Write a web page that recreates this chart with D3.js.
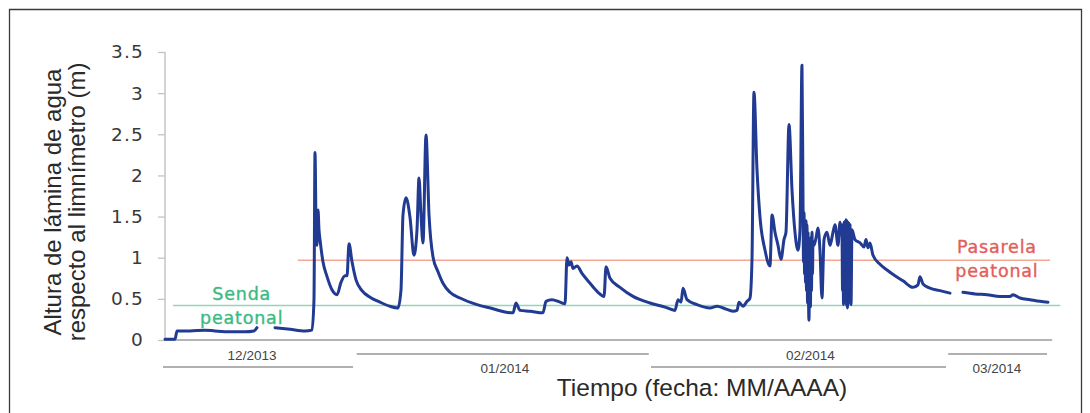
<!DOCTYPE html>
<html>
<head>
<meta charset="utf-8">
<script src="https://cdn.jsdelivr.net/npm/d3@7"></script>
<style>
  html, body { margin: 0; padding: 0; background: #fff; }
  svg { display: block; }
</style>
</head>
<body>
<svg id="chart" width="1090" height="413"></svg>
<script>
// ---------------- DATA ----------------
// time index in days (approx.), water level in metres
const nivelDias = [
  0, 1.36, 1.63, 3.39, 5.42, 6.78, 8.81, 10.85, 12.07, 12.47,
  null,
  14.92, 16.95, 18.98, 19.93, 20.2, 20.34, 20.47, 20.61, 20.75, 20.88, 21.02, 21.42, 21.97, 22.64, 23.32,
  23.86, 24.41, 24.68, 24.95, 25.36, 25.9, 26.71, 27.8, 29.15, 30.51, 31.59, 32.0, 32.27, 32.68, 33.22,
  33.76, 34.17, 34.44, 34.71, 34.98, 35.39, 35.8, 36.34, 37.02, 37.69, 38.64, 40.0, 42.31, 44.47, 46.1,
  47.19, 47.59, 48.14, 49.49, 51.25, 51.66, 52.47, 53.56, 54.24, 54.51, 54.78, 55.05, 55.32, 55.86, 56.54,
  57.63, 58.71, 59.53, 59.8, 60.34, 61.69, 63.46, 65.76, 67.8, 69.15, 69.56, 69.97, 70.24, 70.78, 72.14,
  73.9, 74.85, 75.93, 77.02, 77.56, 77.83, 78.37, 78.92, 79.32, 79.59, 79.86, 80.27, 80.68, 81.36, 82.03,
  82.31, 82.71, 83.12, 83.53, 83.93, 84.2, 84.61, 85.02, 85.42, 85.83, 86.1, 86.37, 86.51,
  86.58, 86.65, 86.72, 86.78, 86.85, 86.92, 86.98, 87.05, 87.12, 87.19, 87.25, 87.32, 87.39, 87.46,
  87.52, 87.59, 87.66, 87.73, 87.8, 87.86, 88.0, 88.27, 88.54, 88.81, 89.08, 89.36, 89.76, 90.17, 90.58,
  90.85, 91.25, 91.53, 91.8, 91.87, 91.93, 92.0, 92.07, 92.14, 92.2, 92.27, 92.34, 92.41, 92.47, 92.54,
  92.61, 92.68, 92.75, 92.81, 92.88, 92.95, 93.02, 93.15, 93.56,
  94.24, 94.78, 95.05, 95.32, 95.59, 96.0, 96.95, 97.9, 98.98, 100.07, 101.42, 102.1, 102.37, 102.78, 103.73,
  105.08, 106.44,
  null,
  108.2, 109.83, 111.46, 113.22, 114.58, 114.98, 115.93, 117.29, 118.64, 119.73
];
const nivelValores = [
  0.01, 0.01, 0.11, 0.11, 0.12, 0.11, 0.10, 0.10, 0.11, 0.15,
  null,
  0.15, 0.13, 0.11, 0.12, 0.49, 2.28, 1.46, 1.15, 1.58, 1.34, 1.22, 0.95, 0.77, 0.61, 0.55,
  0.70, 0.78, 0.78, 1.17, 0.95, 0.73, 0.60, 0.52, 0.46, 0.41, 0.39, 0.61, 1.52, 1.73, 1.49,
  1.03, 1.34, 1.97, 1.52, 1.18, 2.49, 1.52, 1.01, 0.83, 0.69, 0.58, 0.51, 0.43, 0.38, 0.34,
  0.33, 0.45, 0.36, 0.35, 0.33, 0.47, 0.49, 0.46, 0.44, 1.00, 0.91, 0.95, 0.87, 0.90, 0.81,
  0.69, 0.58, 0.53, 0.89, 0.75, 0.64, 0.53, 0.45, 0.40, 0.36, 0.49, 0.46, 0.63, 0.49, 0.43,
  0.39, 0.41, 0.38, 0.35, 0.36, 0.46, 0.41, 0.47, 0.51, 0.97, 3.01, 2.07, 1.49, 1.09, 0.90,
  1.52, 1.31, 1.15, 0.98, 1.22, 1.31, 2.62, 1.82, 1.31, 1.09, 1.34, 3.34, 1.70,
  0.95, 1.55, 0.80, 1.34, 0.70, 1.45, 0.60, 1.40, 0.45, 1.30, 0.55, 0.24, 0.90, 1.22,
  0.40, 1.25, 0.60, 1.31, 0.80, 1.20, 1.15, 1.24, 1.36, 1.09, 0.51, 1.22, 1.31, 1.15, 1.31,
  1.40, 1.15, 1.43, 1.26, 0.60, 1.40, 0.43, 1.43, 0.55, 1.44, 0.49, 1.46, 0.42, 1.45, 0.39,
  1.43, 0.48, 1.42, 0.49, 1.40, 0.45, 0.43, 1.34, 1.22,
  1.18, 1.13, 1.22, 1.12, 1.18, 1.03, 0.92, 0.85, 0.78, 0.72, 0.64, 0.67, 0.77, 0.68, 0.63,
  0.60, 0.57,
  null,
  0.58, 0.56, 0.55, 0.53, 0.53, 0.55, 0.51, 0.49, 0.47, 0.46
];

const yTicks = [0, 0.5, 1, 1.5, 2, 2.5, 3, 3.5];

const meses = ["12/2013", "01/2014", "02/2014", "03/2014"];
const mesInicio = [-0.27, 26.0, 65.9, 106.2];
const mesFin = [25.5, 65.6, 105.9, 119.6];
const mesEtiqueta = [11.8, 46.1, 87.5, 112.8];

const umbralNombres = [["Senda", "peatonal"], ["Pasarela", "peatonal"]];
const umbralValores = [0.42, 0.97];
const umbralInicio = [1.08, 18.0];
const umbralFin = [121.4, 120.0];
const umbralEtiquetaX = [10.4, 112.8];

// ---------------- CHART ----------------
const svg = d3.select("#chart");

// outer frame
svg.append("path")
  .attr("d", "M9.5,420 L9.5,9.5 L1081.5,9.5 L1081.5,420")
  .attr("fill", "none").attr("stroke", "#3a3a3a").attr("stroke-width", 1.3);

const x = d3.scaleLinear().domain([0, 120]).range([165, 1050]);
const y = d3.scaleLinear().domain([0, 3.5]).range([340, 52]);

// y axis
const yAxis = svg.append("g")
  .attr("transform", `translate(${x(0)},0)`)
  .call(d3.axisLeft(y).tickValues(yTicks).tickSize(7).tickPadding(14)
    .tickFormat(d3.format("~g")));
yAxis.select(".domain").attr("stroke", "#c4c4c4").attr("stroke-width", 1.5)
  .attr("d", `M0,${y(3.5)}V${y(0)}`);
yAxis.selectAll(".tick line").attr("stroke", "#c4c4c4").attr("stroke-width", 1.3);
yAxis.selectAll(".tick text")
  .attr("fill", "#3a3a3a")
  .style("font-family", "'DejaVu Sans', Verdana, sans-serif")
  .style("font-size", "18.5px")
  .style("letter-spacing", "1.2px");

// x axis baseline
svg.append("line")
  .attr("x1", x(0)).attr("x2", x(120.3))
  .attr("y1", y(0)).attr("y2", y(0))
  .attr("stroke", "#b4b4b4").attr("stroke-width", 2);

// threshold lines
const umbralColores = ["#8ed8b4", "#f2a894"];
const umbralTexto = ["#3cba82", "#e35d5a"];
umbralValores.forEach((v, i) => {
  svg.append("line")
    .attr("x1", x(umbralInicio[i])).attr("x2", x(umbralFin[i]))
    .attr("y1", y(v)).attr("y2", y(v))
    .attr("stroke", umbralColores[i]).attr("stroke-width", 1.6);
});

// water level line
const pts = nivelDias.map((d, i) => [d, nivelValores[i]]);
const line = d3.line()
  .defined(d => d[0] !== null && d[1] !== null)
  .curve(d3.curveMonotoneX)
  .x(d => x(d[0])).y(d => y(d[1]));
svg.append("path")
  .datum(pts)
  .attr("d", line)
  .attr("fill", "none")
  .attr("stroke", "#213a92")
  .attr("stroke-width", 3)
  .attr("stroke-linejoin", "round")
  .attr("stroke-linecap", "round");

// threshold labels
umbralNombres.forEach((names, i) => {
  const t = svg.append("text")
    .attr("x", x(umbralEtiquetaX[i]))
    .attr("text-anchor", "middle")
    .attr("fill", umbralTexto[i])
    .attr("stroke", umbralTexto[i])
    .attr("stroke-width", 0.35)
    .style("font-family", "'DejaVu Sans', Verdana, sans-serif")
    .style("font-size", "17.5px")
    .style("letter-spacing", "0.8px");
  const base = i === 0 ? y(umbralValores[i]) - 5 : y(umbralValores[i]) - 7;
  t.append("tspan").attr("x", x(umbralEtiquetaX[i])).attr("y", base).text(names[0]);
  t.append("tspan").attr("x", x(umbralEtiquetaX[i])).attr("y", base + 23.5).text(names[1]);
});

// month bands
meses.forEach((m, i) => {
  const upper = i % 2 === 1;
  const ly = upper ? 354 : 367;
  svg.append("line")
    .attr("x1", x(mesInicio[i])).attr("x2", x(mesFin[i]))
    .attr("y1", ly).attr("y2", ly)
    .attr("stroke", "#b0b0b0").attr("stroke-width", 2);
  svg.append("text")
    .attr("x", x(mesEtiqueta[i]))
    .attr("y", upper ? 373 : 360)
    .attr("text-anchor", "middle")
    .attr("fill", "#444")
    .style("font-family", "'Liberation Sans', Arial, sans-serif")
    .style("font-size", "13.5px")
    .text(m);
});

// axis titles
svg.append("text")
  .attr("x", 702).attr("y", 396)
  .attr("text-anchor", "middle")
  .attr("fill", "#2a2a2a")
  .style("font-family", "'Liberation Sans', Arial, sans-serif")
  .style("font-size", "24.5px")
  .text("Tiempo (fecha: MM/AAAA)");

const yt = svg.append("text")
  .attr("transform", "translate(0,202) rotate(-90)")
  .attr("text-anchor", "middle")
  .attr("fill", "#2a2a2a")
  .style("font-family", "'Liberation Sans', Arial, sans-serif")
  .style("font-size", "24px");
yt.append("tspan").attr("x", 0).attr("y", 61).text("Altura de lámina de agua");
yt.append("tspan").attr("x", 0).attr("y", 85).text("respecto al limnímetro (m)");
</script>
</body>
</html>
